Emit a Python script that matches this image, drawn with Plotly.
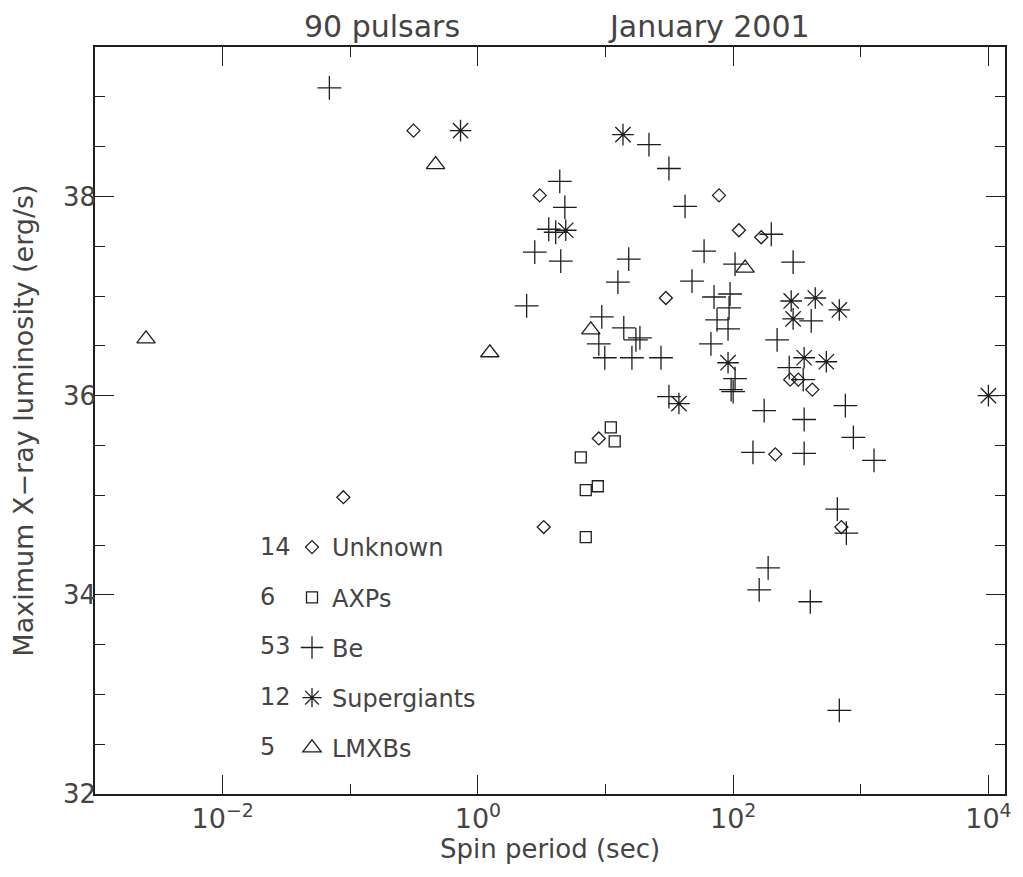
import plotly.graph_objects as go

# ---- data (spin period in s, log10 max X-ray luminosity) ----
unknown_P = [0.313, 0.0883, 3.05, 3.28, 8.86, 29.7, 77.5, 111, 166, 280, 324, 417, 214, 705]
unknown_L = [38.66, 34.98, 38.01, 34.68, 35.57, 36.98, 38.01, 37.66, 37.59, 36.16, 36.16, 36.06, 35.41, 34.68]

axp_P = [11.0, 11.8, 6.40, 7.00, 8.70, 7.00]
axp_L = [35.68, 35.54, 35.38, 35.05, 35.09, 34.58]

be_P = [0.0686, 21.9, 31.4, 4.38, 4.80, 3.59, 4.07, 2.79, 4.46, 15.2,
        42.0, 199, 59.2, 103.5, 295, 12.5, 47.6, 2.41, 70.8, 94.6,
        92.9, 74.8, 91.2, 409, 9.35, 13.9, 18.6, 17.3, 8.86, 67.0,
        221, 9.87, 16.1, 27.2, 103.5, 96.4, 100, 275, 354, 31.4,
        175, 360, 757, 875, 143, 360, 1270, 655, 771, 188,
        160, 402, 679]
be_L = [39.09, 38.52, 38.28, 38.15, 37.89, 37.67, 37.64, 37.44, 37.35, 37.37,
        37.90, 37.62, 37.45, 37.32, 37.34, 37.14, 37.15, 36.90, 36.99, 37.02,
        36.88, 36.76, 36.67, 36.75, 36.79, 36.68, 36.58, 36.56, 36.52, 36.52,
        36.56, 36.38, 36.38, 36.38, 36.17, 36.06, 36.04, 36.28, 36.16, 35.99,
        35.85, 35.76, 35.90, 35.58, 35.43, 35.42, 35.35, 34.86, 34.62, 34.27,
        34.05, 33.93, 32.84]

sg_P = [0.731, 13.7, 4.88, 91.2, 37.6, 285, 440, 679, 295, 360, 537, 10000]
sg_L = [38.66, 38.62, 37.66, 36.33, 35.92, 36.95, 36.98, 36.86, 36.77, 36.38, 36.34, 36.00]

lmxb_P = [0.00251, 0.466, 1.24, 7.67, 124]
lmxb_L = [36.57, 38.32, 36.43, 36.66, 37.28]

x_tickvals = [1e-2, 1, 1e2, 1e4]
x_ticktext = ["10<sup>\u22122</sup>", "10<sup>0</sup>", "10<sup>2</sup>", "10<sup>4</sup>"]
x_minor = [1e-1, 1e1, 1e3]
y_tickvals = [32, 34, 36, 38]

FONT = "DejaVu Sans"
INK = "#1e1e1e"
TXT = "#444444"

series = [
    ("Unknown", unknown_P, unknown_L, "diamond-open", 10),
    ("AXPs", axp_P, axp_L, "square-open", 11),
    ("Be", be_P, be_L, "cross-thin-open", 17),
    ("Supergiants", sg_P, sg_L, "asterisk-open", 18),
    ("LMXBs", lmxb_P, lmxb_L, "triangle-up-open", 16),
]

fig = go.Figure()
for name, P, L, sym, size in series:
    fig.add_trace(go.Scatter(
        x=P, y=L, mode="markers", name=name, legendgroup=name,
        marker=dict(symbol=sym, size=size, color=INK,
                    line=dict(color=INK, width=1.3)),
    ))

# page body adds an 8px offset; figure sized to fit the window
OFF = 8
W, H = 1015, 869
ml, mr, mt, mb = 87, 18, 39, 83
pw, ph = W - ml - mr, H - mt - mb

def px_x(sx):
    return (sx - OFF - ml) / pw

def px_y(sy):
    return (H - mb - (sy - OFF)) / ph

# counts to the left of legend rows
row_y = [547, 597, 646, 697, 747]
for (name, P, L, sym, size), ry in zip(series, row_y):
    fig.add_annotation(x=px_x(258), y=px_y(ry), xref="paper", yref="paper",
                       text=str(len(P)), showarrow=False, xanchor="left", yanchor="middle",
                       font=dict(family=FONT, size=24, color=TXT))

for txt, cx in (("90 pulsars", 382), ("January 2001", 709)):
    fig.add_annotation(x=px_x(cx), y=px_y(27), xref="paper", yref="paper", text=txt,
                       showarrow=False, xanchor="center", yanchor="middle", borderpad=0,
                       font=dict(family=FONT, size=30, color=TXT))

axis_common = dict(
    showgrid=False, zeroline=False, showline=True, linecolor=INK, linewidth=1.5,
    mirror="allticks", ticks="inside", tickcolor=INK, tickwidth=1.3, ticklen=19,
)

fig.update_xaxes(
    type="log", range=[-3, 4.13], tickmode="array", tickvals=x_tickvals, ticktext=x_ticktext,
    tickfont=dict(family=FONT, size=27, color=TXT),
    minor=dict(tickmode="array", tickvals=x_minor, ticks="inside", ticklen=10,
               tickcolor=INK, tickwidth=1.3, showgrid=False),
    title=dict(text="Spin period (sec)", font=dict(family=FONT, size=26, color=TXT), standoff=2),
    **axis_common,
)
fig.update_yaxes(
    range=[32, 39.5], tickmode="array", tickvals=y_tickvals,
    tickfont=dict(family=FONT, size=26, color=TXT), ticklabelstandoff=-8,
    minor=dict(dtick=0.5, tick0=32, ticks="inside", ticklen=10,
               tickcolor=INK, tickwidth=1.3, showgrid=False),
    title=dict(text="Maximum X\u2212ray luminosity (erg/s)", font=dict(family=FONT, size=27, color=TXT), standoff=24),
    **axis_common,
)

fig.update_layout(
    width=W, height=H, margin=dict(l=ml, r=mr, t=mt, b=mb, autoexpand=False),
    paper_bgcolor="white", plot_bgcolor="white",
    showlegend=True,
    legend=dict(x=px_x(292), xanchor="left", y=px_y(525), yanchor="top",
                bgcolor="rgba(0,0,0,0)", traceorder="grouped", tracegroupgap=16,
                font=dict(family=FONT, size=24, color=TXT), itemwidth=30),
)

fig.write_html("out.html")
